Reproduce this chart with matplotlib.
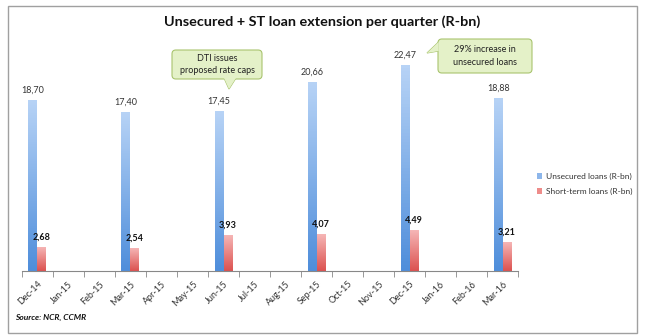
import matplotlib
matplotlib.use("Agg")
import matplotlib.pyplot as plt
import numpy as np
from matplotlib.colors import LinearSegmentedColormap
from matplotlib.patches import Rectangle, FancyBboxPatch, Polygon

plt.rcParams['font.family'] = ['Lato', 'DejaVu Sans']

# months on the x axis
months = ['Dec-14', 'Jan-15', 'Feb-15', 'Mar-15', 'Apr-15', 'May-15', 'Jun-15', 'Jul-15',
          'Aug-15', 'Sep-15', 'Oct-15', 'Nov-15', 'Dec-15', 'Jan-16', 'Feb-16', 'Mar-16']
# quarterly values (NaN for months with no data)
unsecured = [18.70, np.nan, np.nan, 17.40, np.nan, np.nan, 17.45, np.nan,
             np.nan, 20.66, np.nan, np.nan, 22.47, np.nan, np.nan, 18.88]
short_term = [2.68, np.nan, np.nan, 2.54, np.nan, np.nan, 3.93, np.nan,
              np.nan, 4.07, np.nan, np.nan, 4.49, np.nan, np.nan, 3.21]

W, H = 646, 336
fig = plt.figure(figsize=(W / 100, H / 100), dpi=100)
ax = fig.add_axes([0.034, 0.193, 0.768, 0.682])

x = np.arange(len(months))
w = 0.29
b1 = ax.bar(x - w / 2, unsecured, w, color='#8db6ea', label='Unsecured loans (R-bn)')
b2 = ax.bar(x + w / 2, short_term, w, color='#ee8c8a', label='Short-term loans (R-bn)')

# vertical gradient fill inside each bar
def shade(bars, top, bottom):
    cmap = LinearSegmentedColormap.from_list('g', [bottom, top])
    grad = np.linspace(0, 1, 64).reshape(-1, 1)
    for b in bars:
        h = b.get_height()
        if np.isnan(h):
            continue
        x0 = b.get_x()
        im = ax.imshow(grad, cmap=cmap, origin='lower', aspect='auto',
                       extent=[x0, x0 + b.get_width(), 0, h], zorder=2)
        im.set_clip_path(b)

shade(b1, '#b7d3f6', '#4f8edb')
shade(b2, '#f6b8b8', '#dc5250')

for xi, v in zip(x, unsecured):
    if not np.isnan(v):
        ax.text(xi - w / 2, v + 0.55, f'{v:.2f}'.replace('.', ','), ha='center', va='bottom',
                fontsize=6.5, color='#333333')
for xi, v in zip(x, short_term):
    if not np.isnan(v):
        ax.text(xi + w / 2, v + 0.55, f'{v:.2f}'.replace('.', ','), ha='center', va='bottom',
                fontsize=6.5, color='#111111', fontweight='bold')

ax.set_xlim(-0.5, len(months) - 0.5)
ax.set_ylim(0, 25)
ax.set_yticks([])
for s in ['top', 'right', 'left']:
    ax.spines[s].set_visible(False)
ax.spines['bottom'].set_color('#888888')
ax.set_xticks(x)
ax.set_xticklabels(months, rotation=45, ha='right', rotation_mode='anchor', fontsize=6.5,
                   color='#333333')
ax.tick_params(axis='x', which='major', length=0, pad=6)
ax.set_xticks(np.arange(-0.5, len(months)), minor=True)
ax.tick_params(axis='x', which='minor', length=4, color='#888888')


# callout box with a pointer, given in figure pixels (origin top-left)
def callout(text, x0, y0, x1, y1, base, tip):
    fc, ec = '#e4f1c8', '#a9c46f'
    T = fig.transFigure
    f = lambda p: (p[0] / W, 1 - p[1] / H)
    tri = [f(base[0]), f(tip), f(base[1])]
    fig.patches.append(Polygon(tri, closed=True, fc=fc, ec=ec, lw=0.8, transform=T, zorder=5))
    fig.patches.append(FancyBboxPatch(f((x0, y1)), (x1 - x0) / W, (y1 - y0) / H,
                                      boxstyle='round,pad=0,rounding_size=0.006',
                                      fc=fc, ec=ec, lw=0.8, transform=T, zorder=6,
                                      mutation_aspect=W / H))
    fig.patches.append(Polygon(tri, closed=True, fc=fc, ec='none', transform=T, zorder=7))
    fig.text((x0 + x1) / 2 / W, 1 - (y0 + y1) / 2 / H, text, ha='center', va='center',
             fontsize=6.5, color='#222222', zorder=8, linespacing=1.5)

callout('DTI issues\nproposed rate caps', 172, 50, 262, 79,
        [(224, 78), (236, 78)], (229, 89))
callout('29% increase in\nunsecured loans', 438, 39, 532, 73,
        [(438.6, 42), (438.6, 51)], (427, 53))

fig.legend(handles=[b1, b2], loc='center left', bbox_to_anchor=(529 / W, 1 - 184 / H),
           frameon=False, fontsize=6, handlelength=0.7, handleheight=0.7,
           handletextpad=0.4, labelspacing=0.9, labelcolor='#333333')

fig.text(0.498, 1 - 22 / H, 'Unsecured + ST loan extension per quarter (R-bn)', ha='center',
         va='center', fontsize=10.4, fontweight='bold', color='#111111')
fig.text(15 / W, 1 - 317 / H, 'Source: NCR, CCMR', fontsize=6, fontweight='bold',
         style='italic', color='#111111', va='center')

fig.patches.append(Rectangle((8 / W, 3 / H), 629 / W, 327 / H, transform=fig.transFigure,
                             fill=False, ec='#a0a0a0', lw=1))

fig.savefig('out.png', dpi=100)
